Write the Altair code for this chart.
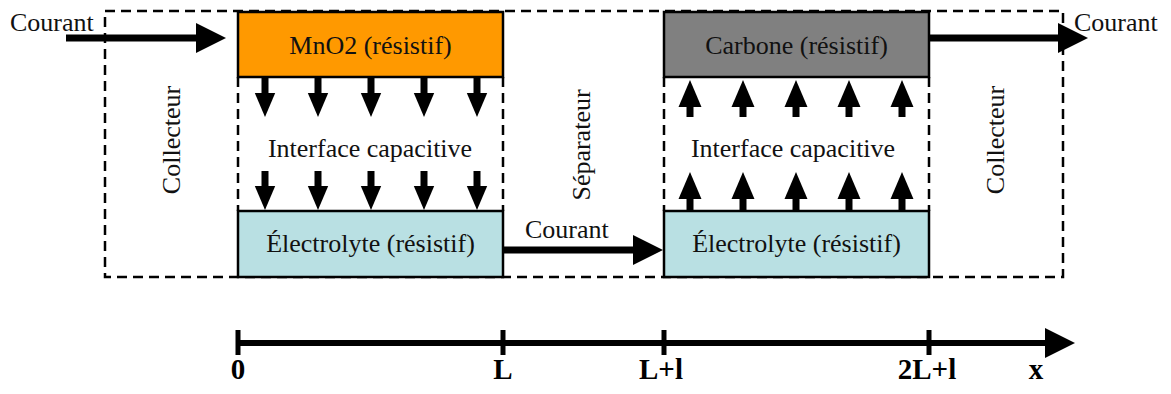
import altair as alt
import pandas as pd

# ---- diagram geometry (pixel units of the reference picture) ----
frame_x = [105, 1063]
frame_y = [11, 277]

box_labels = ["MnO2 (résistif)", "Électrolyte (résistif)", "Carbone (résistif)", "Électrolyte (résistif)"]
box_x0 = [238, 238, 664, 664]
box_x1 = [503, 503, 929, 929]
box_y0 = [12, 211, 12, 211]
box_y1 = [77, 277, 77, 277]
box_fill = ["#FF9900", "#B9E0E3", "#808080", "#B9E0E3"]
box_text_y = [54, 252, 54, 252]

# dashed boundaries of the capacitive interfaces
sep_x = [238, 503, 664, 929]
sep_y = [77, 211]

# capacitive arrows
cap_left_x = [265, 318, 371, 424, 477]
cap_right_x = [690, 743, 796, 849, 902]
down_shaft = [(77, 96), (171, 190)]
down_tip = [117, 210]
up_shaft = [(117, 100), (210, 193)]
up_tip = [80, 172]

# current arrows
cur_x0 = [66, 929, 503]
cur_x1 = [205, 1068, 643]
cur_tip = [226, 1088, 663]
cur_y = [38, 38, 250]
cur_text = ["Courant", "Courant", "Courant"]
cur_text_x = [10, 1074, 525]
cur_text_y = [31, 31, 238]

# vertical labels
side_labels = ["Collecteur", "Séparateur", "Collecteur"]
side_x = [180, 590, 1004]
side_y = [140, 145, 140]

interface_label = ["Interface capacitive", "Interface capacitive"]
interface_x = [370, 793]
interface_y = [157, 157]

# x axis
axis_tick_x = [238, 503, 664, 929]
axis_label_x = [238, 503, 661, 927, 1036]
axis_labels = ["0", "L", "L+l", "2L+l", "x"]
axis_y = 343
axis_start, axis_end, axis_tip = 238, 1050, 1075
tick_y = [330, 355]
label_y = 379

FONT = "Liberation Serif"
HEAD_BIG = "M0,0 L-2,-1 L-2,1 Z"
HEAD_SMALL = "M0,0 L-2,-0.85 L-2,0.85 Z"

xs = alt.Scale(domain=[8, 1163], nice=False, zero=False)
ys = alt.Scale(domain=[8, 386], nice=False, zero=False, reverse=True)


def X(f="x"):
    return alt.X(f"{f}:Q", scale=xs, axis=None)


def Y(f="y"):
    return alt.Y(f"{f}:Q", scale=ys, axis=None)


# frame
frame_df = pd.DataFrame({"x": [frame_x[0]], "x2": [frame_x[1]], "y": [frame_y[0]], "y2": [frame_y[1]]})
frame = alt.Chart(frame_df).mark_rect(fillOpacity=0, stroke="black", strokeWidth=2.5,
                                      strokeDash=[10, 6]).encode(
    x=X(), x2="x2:Q", y=Y(), y2="y2:Q")

sep_df = pd.DataFrame({"x": sep_x, "y": [sep_y[0]] * 4, "y2": [sep_y[1]] * 4})
seps = alt.Chart(sep_df).mark_rule(color="black", strokeWidth=2.5, strokeDash=[10, 6]).encode(
    x=X(), y=Y(), y2="y2:Q")

# boxes
box_df = pd.DataFrame({"x": box_x0, "x2": box_x1, "y": box_y0, "y2": box_y1,
                       "fill": box_fill, "label": box_labels,
                       "tx": [(a + b) / 2 for a, b in zip(box_x0, box_x1)], "ty": box_text_y})
boxes = alt.Chart(box_df).mark_rect(stroke="black", strokeWidth=2.5).encode(
    x=X(), x2="x2:Q", y=Y(), y2="y2:Q", fill=alt.Fill("fill:N", scale=None))
box_text = alt.Chart(box_df).mark_text(font=FONT, fontSize=26, color="#111",
                                       align="center", baseline="alphabetic").encode(
    x=X("tx"), y=Y("ty"), text="label:N")

# shafts and heads
shafts = []
heads = []
for x in cap_left_x:
    for (a, b), t in zip(down_shaft, down_tip):
        shafts.append({"x": x, "x2": x, "y": a, "y2": b, "w": 7})
        heads.append({"x": x, "y": t, "angle": 90, "size": 576, "shape": HEAD_SMALL})
for x in cap_right_x:
    for (a, b), t in zip(up_shaft, up_tip):
        shafts.append({"x": x, "x2": x, "y": a, "y2": b, "w": 7})
        heads.append({"x": x, "y": t, "angle": 270, "size": 729, "shape": HEAD_SMALL})
for a, b, t, y in zip(cur_x0, cur_x1, cur_tip, cur_y):
    shafts.append({"x": a, "x2": b, "y": y, "y2": y, "w": 7})
    heads.append({"x": t, "y": y, "angle": 0, "size": 900, "shape": HEAD_BIG})
shafts.append({"x": axis_start, "x2": axis_end, "y": axis_y, "y2": axis_y, "w": 6})
heads.append({"x": axis_tip, "y": axis_y, "angle": 0, "size": 900, "shape": HEAD_BIG})
for x in axis_tick_x:
    shafts.append({"x": x, "x2": x, "y": tick_y[0], "y2": tick_y[1], "w": 5})

shaft_df = pd.DataFrame(shafts)
head_df = pd.DataFrame(heads)

shaft_layer = alt.Chart(shaft_df).mark_rule(color="black", strokeCap="butt").encode(
    x=X(), x2="x2:Q", y=Y(), y2="y2:Q", strokeWidth=alt.StrokeWidth("w:Q", scale=None))
head_layer = alt.Chart(head_df).mark_point(filled=True, color="black", opacity=1, strokeWidth=0).encode(
    x=X(), y=Y(), angle=alt.Angle("angle:Q", scale=None),
    size=alt.Size("size:Q", scale=None), shape=alt.Shape("shape:N", scale=None))

# texts
cur_df = pd.DataFrame({"x": cur_text_x, "y": cur_text_y, "t": cur_text})
cur_layer = alt.Chart(cur_df).mark_text(font=FONT, fontSize=26, color="#111",
                                        align="left", baseline="alphabetic").encode(
    x=X(), y=Y(), text="t:N")

side_df = pd.DataFrame({"x": side_x, "y": side_y, "t": side_labels})
side_layer = alt.Chart(side_df).mark_text(font=FONT, fontSize=26, color="#111", angle=270,
                                          align="center", baseline="alphabetic").encode(
    x=X(), y=Y(), text="t:N")

int_df = pd.DataFrame({"x": interface_x, "y": interface_y, "t": interface_label})
int_layer = alt.Chart(int_df).mark_text(font=FONT, fontSize=26, color="#111",
                                        align="center", baseline="alphabetic").encode(
    x=X(), y=Y(), text="t:N")

lab_df = pd.DataFrame({"x": axis_label_x, "y": [label_y] * len(axis_labels), "t": axis_labels})
lab_layer = alt.Chart(lab_df).mark_text(font=FONT, fontSize=29, fontWeight="bold", color="black",
                                        align="center", baseline="alphabetic").encode(
    x=X(), y=Y(), text="t:N")

chart = alt.layer(frame, seps, boxes, box_text, shaft_layer, head_layer,
                  cur_layer, side_layer, int_layer, lab_layer).properties(
    width=1155, height=378, padding=0, autosize=alt.AutoSizeParams(type="none"),
    background="white"
).configure_view(strokeWidth=0)

chart.save("out.html", embed_options={"renderer": "svg", "actions": False})
